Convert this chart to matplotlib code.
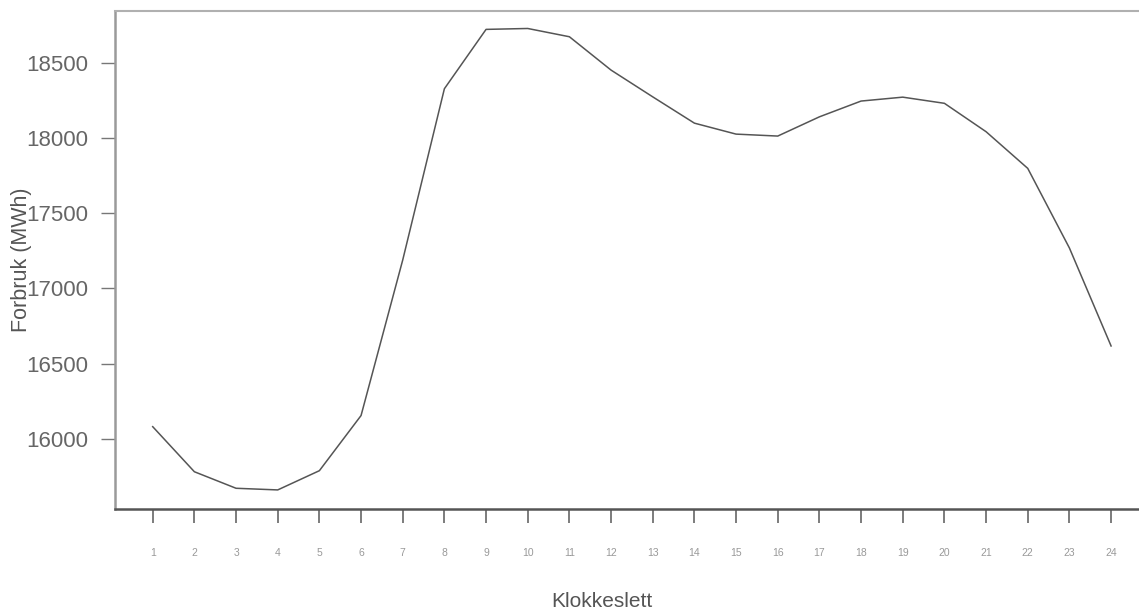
import matplotlib
matplotlib.use("Agg")
import matplotlib.pyplot as plt

# Hourly electricity consumption over a day
hours = list(range(1, 25))
consumption = [16080, 15780, 15670, 15659, 15787, 16154, 17189, 18329,
               18724, 18730, 18675, 18453, 18275, 18100, 18027, 18014,
               18142, 18247, 18273, 18232, 18043, 17799, 17269, 16617]
y_ticks = [16000, 16500, 17000, 17500, 18000, 18500]

plt.rcParams['font.family'] = ['Liberation Sans', 'DejaVu Sans']

fig = plt.figure(figsize=(11.39, 6.14), dpi=100)
ax = fig.add_axes([0.101, 0.171, 0.899, 0.811])

ax.plot(hours, consumption, color='#555555', linewidth=1.1)

ax.set_xlim(0.096, 24.67)
ax.set_ylim(15532, 18846)

ax.set_xticks(hours)
ax.set_xticklabels([str(h) for h in hours], fontsize=7.5, color='#999999')
ax.set_yticks(y_ticks)
ax.set_yticklabels([str(v) for v in y_ticks], fontsize=16, color='#666666')

ax.tick_params(axis='x', direction='out', length=10, width=1.2,
               color='#666666', pad=18)
ax.tick_params(axis='y', direction='out', length=10, width=1.0,
               color='#777777', pad=9)

ax.spines['right'].set_visible(False)
ax.spines['top'].set_color('#b0b0b0')
ax.spines['top'].set_linewidth(1.5)
ax.spines['left'].set_color('#9a9a9a')
ax.spines['left'].set_linewidth(1.8)
ax.spines['bottom'].set_color('#555555')
ax.spines['bottom'].set_linewidth(1.8)

ax.set_xlabel('Klokkeslett', fontsize=15, color='#555555')
ax.xaxis.set_label_coords(0.475, -0.166)
ax.set_ylabel('Forbruk (MWh)', fontsize=15.5, color='#555555')
ax.yaxis.set_label_coords(-0.081, 0.5)

fig.savefig('out.png', dpi=100)
